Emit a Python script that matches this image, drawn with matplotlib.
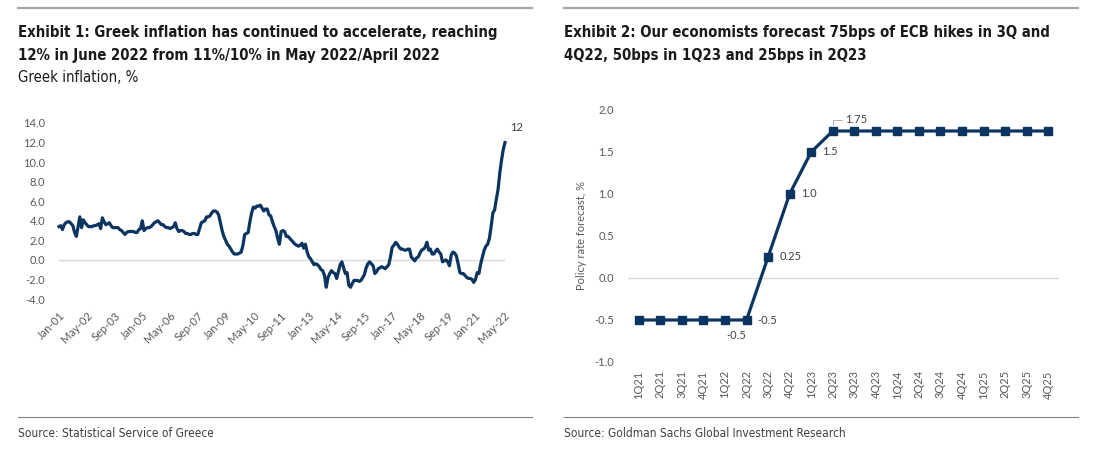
import matplotlib
matplotlib.use('Agg')
from matplotlib import pyplot as plt
from matplotlib import font_manager as fm
from matplotlib.lines import Line2D
import numpy as np

# Exhibit 1: Greek inflation, % (monthly, Jan-01 .. Jun-22)
cpi_2001 = [3.4, 3.5, 3.1, 3.6, 3.8, 3.9, 3.9, 3.7, 3.5, 2.8, 2.4, 3.4]
cpi_2002 = [4.4, 3.3, 4.1, 3.8, 3.6, 3.4, 3.4, 3.4, 3.5, 3.5, 3.6, 3.7]
cpi_2003 = [3.2, 4.3, 3.9, 3.6, 3.7, 3.8, 3.5, 3.3, 3.3, 3.3, 3.3, 3.1]
cpi_2004 = [3.0, 2.8, 2.6, 2.8, 2.9, 2.9, 2.9, 2.9, 2.8, 2.8, 3.1, 3.2]
cpi_2005 = [4.0, 3.0, 3.2, 3.3, 3.3, 3.4, 3.6, 3.8, 3.9, 4.0, 3.8, 3.6]
cpi_2006 = [3.6, 3.4, 3.3, 3.3, 3.2, 3.3, 3.4, 3.8, 3.2, 2.9, 3.0, 3.0]
cpi_2007 = [2.9, 2.7, 2.7, 2.6, 2.6, 2.7, 2.7, 2.6, 2.6, 3.2, 3.8, 3.9]
cpi_2008 = [4.0, 4.4, 4.4, 4.5, 4.8, 5.0, 5.0, 4.9, 4.6, 3.8, 3.0, 2.4]
cpi_2009 = [2.0, 1.6, 1.4, 1.1, 0.8, 0.6, 0.6, 0.6, 0.7, 0.8, 1.5, 2.6]
cpi_2010 = [2.7, 2.8, 3.9, 4.8, 5.4, 5.3, 5.5, 5.5, 5.6, 5.3, 5.0, 5.2]
cpi_2011 = [5.2, 4.6, 4.5, 3.9, 3.4, 3.0, 2.2, 1.6, 2.9, 3.0, 2.9, 2.4]
cpi_2012 = [2.4, 2.2, 2.0, 1.8, 1.6, 1.5, 1.4, 1.5, 1.7, 1.2, 1.6, 0.8]
cpi_2013 = [0.3, 0.1, -0.2, -0.5, -0.4, -0.5, -0.7, -1.0, -1.1, -1.6, -2.8, -1.8]
cpi_2014 = [-1.4, -1.1, -1.3, -1.4, -1.9, -1.2, -0.5, -0.2, -0.8, -1.4, -1.3, -2.6]
cpi_2015 = [-2.8, -2.4, -2.1, -2.1, -2.1, -2.2, -2.1, -1.8, -1.5, -0.8, -0.4, -0.2]
cpi_2016 = [-0.4, -0.6, -1.4, -1.2, -0.9, -0.8, -0.7, -0.8, -0.9, -0.7, -0.5, 0.3]
cpi_2017 = [1.3, 1.5, 1.8, 1.6, 1.3, 1.1, 1.1, 1.0, 1.0, 1.1, 1.1, 0.3]
cpi_2018 = [0.1, -0.1, 0.2, 0.3, 0.7, 1.0, 1.1, 1.3, 1.8, 1.0, 1.1, 0.6]
cpi_2019 = [0.6, 0.9, 1.1, 0.8, 0.6, -0.2, -0.1, 0.0, -0.2, -0.6, 0.5, 0.8]
cpi_2020 = [0.7, 0.4, -0.4, -1.3, -1.4, -1.4, -1.6, -1.8, -1.9, -1.9, -2.0, -2.3]
cpi_2021 = [-2.0, -1.3, -1.4, -0.4, 0.3, 1.0, 1.4, 1.6, 2.2, 3.4, 4.8, 5.1]
cpi_2022 = [6.2, 7.2, 8.9, 10.2, 11.3, 12.0]

month_labels = ['Jan-01', 'May-02', 'Sep-03', 'Jan-05', 'May-06', 'Sep-07', 'Jan-09',
                'May-10', 'Sep-11', 'Jan-13', 'May-14', 'Sep-15', 'Jan-17', 'May-18',
                'Sep-19', 'Jan-21', 'May-22']
cpi_yticks = [-4.0, -2.0, 0.0, 2.0, 4.0, 6.0, 8.0, 10.0, 12.0, 14.0]

# Exhibit 2: ECB policy rate forecast, %
quarters = ['1Q21', '2Q21', '3Q21', '4Q21', '1Q22', '2Q22', '3Q22', '4Q22', '1Q23', '2Q23',
            '3Q23', '4Q23', '1Q24', '2Q24', '3Q24', '4Q24', '1Q25', '2Q25', '3Q25', '4Q25']
policy_rate = [-0.5, -0.5, -0.5, -0.5, -0.5, -0.5, 0.25, 1.0, 1.5, 1.75,
               1.75, 1.75, 1.75, 1.75, 1.75, 1.75, 1.75, 1.75, 1.75, 1.75]
rate_yticks = [-1.0, -0.5, 0.0, 0.5, 1.0, 1.5, 2.0]

W, H = 1096, 450
NAVY = '#0b3560'
TICK_GREY = '#595959'
plt.rcParams['font.family'] = ['Lato', 'DejaVu Sans']

# narrow headline font: condensed DejaVu if the system has it, else Roboto
_cond = fm.findfont(fm.FontProperties(family='DejaVu Sans', stretch='condensed', weight='bold'))
if 'Condensed' in _cond:
    HEAD = dict(family=['DejaVu Sans', 'Lato'], fontstretch='condensed')
else:
    HEAD = dict(family=['Roboto', 'DejaVu Sans'])


def box(x0, y0, x1, y1):
    # pixel box (top-left origin) -> figure fraction rect
    return [x0 / W, 1 - y1 / H, (x1 - x0) / W, (y1 - y0) / H]


def hline(fig, x0, x1, y, color, lw):
    fig.add_artist(Line2D([x0 / W, x1 / W], [1 - y / H, 1 - y / H],
                          transform=fig.transFigure, color=color, lw=lw))


def clean(ax):
    for s in ax.spines.values():
        s.set_visible(False)
    ax.tick_params(length=0, colors=TICK_GREY, labelsize=8)
    ax.axhline(0, color='#d9d9d9', lw=1.0, zorder=0)


fig = plt.figure(figsize=(W / 100, H / 100), dpi=100)

# header / footer rules and texts
hline(fig, 18, 532, 8, '#a6a6a6', 1.6)
hline(fig, 564, 1078, 8, '#a6a6a6', 1.6)
hline(fig, 18, 532, 417, '#7f7f7f', 0.8)
hline(fig, 564, 1078, 417, '#7f7f7f', 0.8)

# (text, x, baseline y, bold)
titles = [
    ('Exhibit 1: Greek inflation has continued to accelerate, reaching', 18, 37, True),
    ('12% in June 2022 from 11%/10% in May 2022/April 2022', 18, 60, True),
    ('Greek inflation, %', 18, 82, False),
    ('Exhibit 2: Our economists forecast 75bps of ECB hikes in 3Q and', 564, 37, True),
    ('4Q22, 50bps in 1Q23 and 25bps in 2Q23', 564, 60, True),
]
sources = [
    ('Source: Statistical Service of Greece', 18, 437),
    ('Source: Goldman Sachs Global Investment Research', 564, 437),
]
title_texts = [fig.text(x / W, 1 - y / H, s, fontsize=12, color='#1a1a1a', va='baseline',
                        fontweight='bold' if b else 'normal', **HEAD)
               for s, x, y, b in titles]
source_texts = [fig.text(x / W, 1 - y / H, s, fontsize=9, color='#404040', va='baseline', **HEAD)
                for s, x, y in sources]

# ---- Exhibit 1 ----
cpi = (cpi_2001 + cpi_2002 + cpi_2003 + cpi_2004 + cpi_2005 + cpi_2006 + cpi_2007 +
       cpi_2008 + cpi_2009 + cpi_2010 + cpi_2011 + cpi_2012 + cpi_2013 + cpi_2014 +
       cpi_2015 + cpi_2016 + cpi_2017 + cpi_2018 + cpi_2019 + cpi_2020 + cpi_2021 + cpi_2022)
months = np.arange(len(cpi))

ax1 = fig.add_axes(box(59, 123, 505, 299))
clean(ax1)
ax1.plot(months, cpi, color=NAVY, lw=2.3, clip_on=False, solid_joinstyle='round')
ax1.set_xlim(0, len(cpi) - 1)
ax1.set_ylim(-4, 14)
ax1.set_yticks(cpi_yticks)
ax1.set_yticklabels(['%.1f' % v for v in cpi_yticks])
ax1.tick_params(axis='y', pad=10)
ax1.set_xticks(np.arange(len(month_labels)) * 16)
ax1.set_xticklabels(month_labels, rotation=45, ha='right', rotation_mode='anchor')
ax1.tick_params(axis='x', pad=8)
ax1.annotate('%g' % cpi[-1], xy=(months[-1], cpi[-1]), xytext=(8, 11),
             textcoords='offset points', ha='center', va='center', fontsize=8,
             color='#404040', annotation_clip=False,
             arrowprops=dict(arrowstyle='-', color='#a6a6a6', lw=0.6, shrinkA=2, shrinkB=4))

# ---- Exhibit 2 ----
qx = np.arange(len(quarters))
ax2 = fig.add_axes(box(628, 110, 1059, 362))
clean(ax2)
ax2.plot(qx, policy_rate, color=NAVY, lw=2.3, marker='s', markersize=6, clip_on=False)
ax2.set_xlim(-0.5, len(quarters) - 0.5)
ax2.set_ylim(-1, 2)
ax2.set_yticks(rate_yticks)
ax2.set_yticklabels(['%.1f' % v for v in rate_yticks])
ax2.tick_params(axis='y', pad=10)
ax2.set_xticks(qx)
ax2.set_xticklabels(quarters, rotation=90, va='top')
ax2.tick_params(axis='x', pad=6)
ax2.set_ylabel('Policy rate forecast, %', fontsize=8, color=TICK_GREY, labelpad=5)

lab = dict(fontsize=8, color='#404040', va='center', annotation_clip=False)
ax2.annotate('-0.5', xy=(4, policy_rate[4]), xytext=(8, -11), textcoords='offset points',
             ha='center', **lab)
ax2.annotate('-0.5', xy=(5, policy_rate[5]), xytext=(8, 0), textcoords='offset points',
             ha='left', **lab)
ax2.annotate('0.25', xy=(6, policy_rate[6]), xytext=(8, 0), textcoords='offset points',
             ha='left', **lab)
ax2.annotate('1.0', xy=(7, policy_rate[7]), xytext=(8, 0), textcoords='offset points',
             ha='left', **lab)
ax2.annotate('1.5', xy=(8, policy_rate[8]), xytext=(8, 0), textcoords='offset points',
             ha='left', **lab)
ax2.annotate('1.75', xy=(9, policy_rate[9]), xytext=(9, 8), textcoords='offset points',
             ha='left', **lab,
             arrowprops=dict(arrowstyle='-', color='#a6a6a6', lw=0.6, shrinkA=0, shrinkB=4,
                             connectionstyle='angle,angleA=0,angleB=90,rad=0'))

# one common headline size, so the first title lines span ~480 px as in the source
fig.canvas.draw()
renderer = fig.canvas.get_renderer()
w1 = max(title_texts[0].get_window_extent(renderer).width,
         title_texts[3].get_window_extent(renderer).width)
title_size = 12 * 484 / w1
for t in title_texts:
    t.set_fontsize(title_size)
w2 = source_texts[1].get_window_extent(renderer).width
for t in source_texts:
    t.set_fontsize(9 * 281 / w2)

fig.savefig('out.png', dpi=100)
